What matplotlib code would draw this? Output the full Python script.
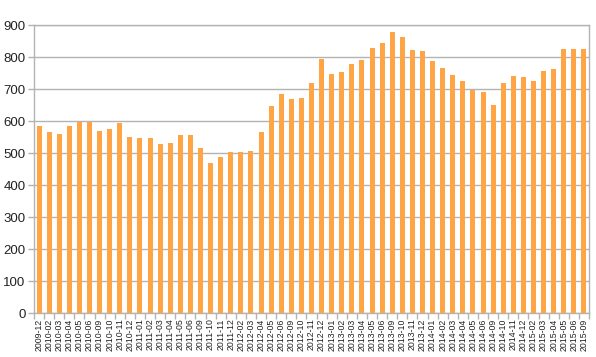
import numpy as np
import matplotlib.pyplot as plt

# month labels (July/August and some Januaries are missing in the source)
months = ['2009-12', '2010-02', '2010-03', '2010-04', '2010-05', '2010-06',
          '2010-09', '2010-10', '2010-11', '2010-12', '2011-01', '2011-02',
          '2011-03', '2011-04', '2011-05', '2011-06', '2011-09', '2011-10',
          '2011-11', '2011-12', '2012-02', '2012-03', '2012-04', '2012-05',
          '2012-06', '2012-09', '2012-10', '2012-11', '2012-12', '2013-01',
          '2013-02', '2013-03', '2013-04', '2013-05', '2013-06', '2013-09',
          '2013-10', '2013-11', '2013-12', '2014-01', '2014-02', '2014-03',
          '2014-04', '2014-05', '2014-06', '2014-09', '2014-10', '2014-11',
          '2014-12', '2015-02', '2015-03', '2015-04', '2015-05', '2015-06',
          '2015-09']

values = [584, 566, 560, 583, 596, 598, 569, 575, 595, 550, 547, 548,
          527, 531, 557, 555, 516, 468, 487, 503, 503, 506, 565, 647,
          683, 669, 672, 719, 793, 748, 753, 779, 791, 829, 844, 879,
          861, 822, 819, 786, 765, 743, 724, 698, 691, 650, 720, 740,
          737, 726, 756, 762, 825, 825, 825]

yticks = list(range(0, 1000, 100))

grid_col = '#b3b3b3'
text_col = '#222222'

plt.rcParams['font.family'] = ['Liberation Sans', 'DejaVu Sans']

fig = plt.figure(figsize=(5.96, 3.57), dpi=100)
ax = fig.add_axes([34 / 596, 44 / 357, 555 / 596, 288 / 357])

x = np.arange(len(months))
ax.bar(x, values, width=0.5, color='#ffa545', zorder=3)

ax.set_xlim(-0.5, len(months) - 0.5)
ax.set_ylim(0, 900)
ax.set_yticks(yticks)
ax.set_yticklabels([str(v) for v in yticks], fontsize=9.5, color=text_col)
ax.yaxis.grid(True, color=grid_col, linewidth=1, zorder=0)

# category labels centred, tick marks on the boundaries
ax.set_xticks(x)
ax.set_xticklabels(months, rotation=90, fontsize=6.3, color=text_col)
ax.tick_params(axis='x', length=0, pad=4)
ax.set_xticks(np.arange(-0.5, len(months)), minor=True)
ax.tick_params(axis='x', which='minor', length=4, color=grid_col, width=1)
ax.tick_params(axis='y', length=4, color=grid_col, width=1, pad=2)

for side in ['left', 'right', 'top', 'bottom']:
    ax.spines[side].set_color(grid_col)
    ax.spines[side].set_linewidth(1)

plt.savefig('out.png', dpi=100)
